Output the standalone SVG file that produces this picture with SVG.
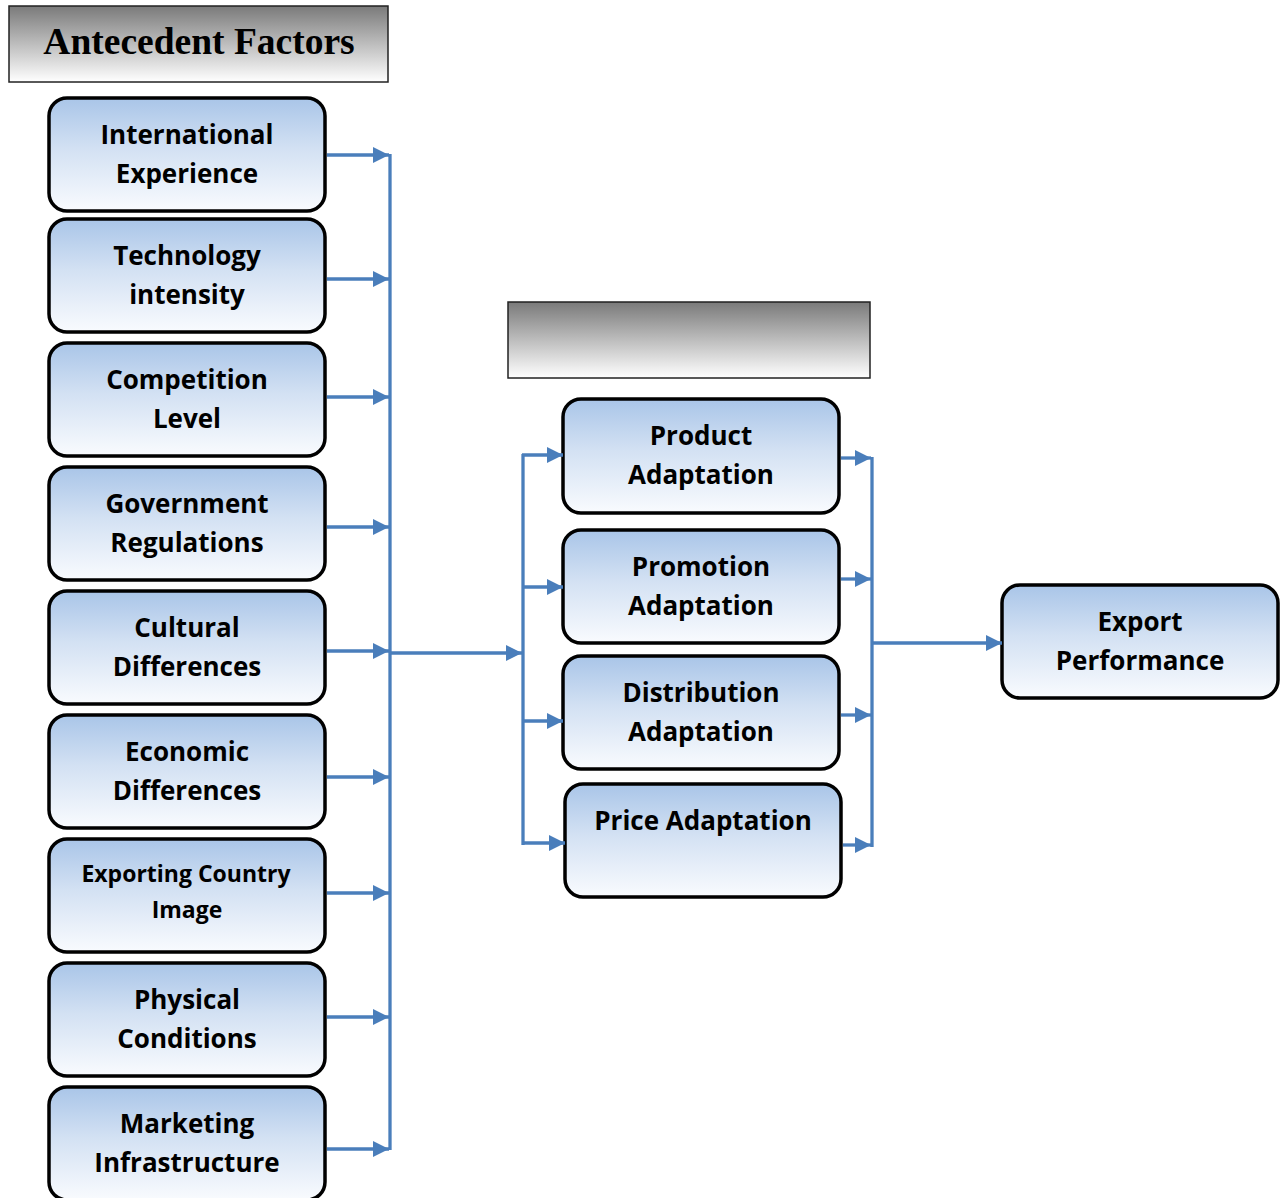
<svg xmlns="http://www.w3.org/2000/svg" width="1282" height="1198" viewBox="0 0 1282 1198">
<defs>
<linearGradient id="blue" x1="0" y1="0" x2="0" y2="1">
<stop offset="0" stop-color="#a9c5e8"/>
<stop offset="0.45" stop-color="#d3e1f3"/>
<stop offset="1" stop-color="#f9fbfe"/>
</linearGradient>
<linearGradient id="gray" x1="0" y1="0" x2="0" y2="1">
<stop offset="0" stop-color="#7a7a7a"/>
<stop offset="0.5" stop-color="#bdbdbd"/>
<stop offset="1" stop-color="#ffffff"/>
</linearGradient>
<marker id="ah" markerUnits="userSpaceOnUse" markerWidth="18" markerHeight="16" refX="16" refY="8" orient="auto">
<path d="M0,0 L16,8 L0,16 Z" fill="#4a7ebb"/>
</marker>
</defs>
<style>
.box{fill:url(#blue);stroke:#000;stroke-width:3.5}
.t{font-family:"Open Sans","Liberation Sans",sans-serif;font-weight:bold;font-size:26px;text-anchor:middle;fill:#000}
.ts{font-size:23px}
.hdr{fill:url(#gray);stroke:#222;stroke-width:1.5}
.c{stroke:#4a7ebb;stroke-width:3.3;fill:none}
.a{stroke:#4a7ebb;stroke-width:3.3;fill:none;marker-end:url(#ah)}
</style>
<g id="title">
<rect class="hdr" x="9" y="6" width="379" height="76"/>
<text x="199" y="54" font-family="Liberation Serif,serif" font-weight="bold" font-size="37.5" text-anchor="middle">Antecedent Factors</text>
</g>
<g id="header2"><rect class="hdr" x="508" y="302" width="362" height="76"/></g>
<g id="n1"><rect class="box" x="49" y="98" width="276" height="113" rx="18"/><text class="t" x="187" y="144">International</text><text class="t" x="187" y="183">Experience</text></g>
<g id="n2"><rect class="box" x="49" y="219" width="276" height="113" rx="18"/><text class="t" x="187" y="265">Technology</text><text class="t" x="187" y="304">intensity</text></g>
<g id="n3"><rect class="box" x="49" y="343" width="276" height="113" rx="18"/><text class="t" x="187" y="389">Competition</text><text class="t" x="187" y="428">Level</text></g>
<g id="n4"><rect class="box" x="49" y="467" width="276" height="113" rx="18"/><text class="t" x="187" y="513">Government</text><text class="t" x="187" y="552">Regulations</text></g>
<g id="n5"><rect class="box" x="49" y="591" width="276" height="113" rx="18"/><text class="t" x="187" y="637">Cultural</text><text class="t" x="187" y="676">Differences</text></g>
<g id="n6"><rect class="box" x="49" y="715" width="276" height="113" rx="18"/><text class="t" x="187" y="761">Economic</text><text class="t" x="187" y="800">Differences</text></g>
<g id="n7"><rect class="box" x="49" y="839" width="276" height="113" rx="18"/><text class="t ts" x="186" y="882">Exporting Country</text><text class="t ts" x="187" y="918">Image</text></g>
<g id="n8"><rect class="box" x="49" y="963" width="276" height="113" rx="18"/><text class="t" x="187" y="1009">Physical</text><text class="t" x="187" y="1048">Conditions</text></g>
<g id="n9"><rect class="box" x="49" y="1087" width="276" height="113" rx="18"/><text class="t" x="187" y="1133">Marketing</text><text class="t" x="187" y="1172">Infrastructure</text></g>
<g id="m1"><rect class="box" x="563" y="399" width="276" height="114" rx="18"/><text class="t" x="701" y="445">Product</text><text class="t" x="701" y="484">Adaptation</text></g>
<g id="m2"><rect class="box" x="563" y="530" width="276" height="113" rx="18"/><text class="t" x="701" y="576">Promotion</text><text class="t" x="701" y="615">Adaptation</text></g>
<g id="m3"><rect class="box" x="563" y="656" width="276" height="113" rx="18"/><text class="t" x="701" y="702">Distribution</text><text class="t" x="701" y="741">Adaptation</text></g>
<g id="m4"><rect class="box" x="565" y="784" width="276" height="113" rx="18"/><text class="t" x="703" y="830">Price Adaptation</text></g>
<g id="r1"><rect class="box" x="1002" y="585" width="276" height="113" rx="18"/><text class="t" x="1140" y="631">Export</text><text class="t" x="1140" y="670">Performance</text></g>
<g id="connectors">
<path class="c" d="M390,154 V1150"/>
<path class="a" d="M327,155 H389"/>
<path class="a" d="M327,279 H389"/>
<path class="a" d="M327,397 H389"/>
<path class="a" d="M327,527 H389"/>
<path class="a" d="M327,651 H389"/>
<path class="a" d="M327,777 H389"/>
<path class="a" d="M327,893 H389"/>
<path class="a" d="M327,1017 H389"/>
<path class="a" d="M327,1149 H389"/>
<path class="a" d="M390,653 H522"/>
<path class="c" d="M523,454 V845"/>
<path class="a" d="M522,455 H563"/>
<path class="a" d="M522,587 H563"/>
<path class="a" d="M522,721 H563"/>
<path class="a" d="M522,843 H565"/>
<path class="c" d="M872,457 V847"/>
<path class="a" d="M841,458 H871"/>
<path class="a" d="M841,579 H871"/>
<path class="a" d="M841,715 H871"/>
<path class="a" d="M843,845 H871"/>
<path class="a" d="M872,643 H1002"/>
</g>
</svg>
